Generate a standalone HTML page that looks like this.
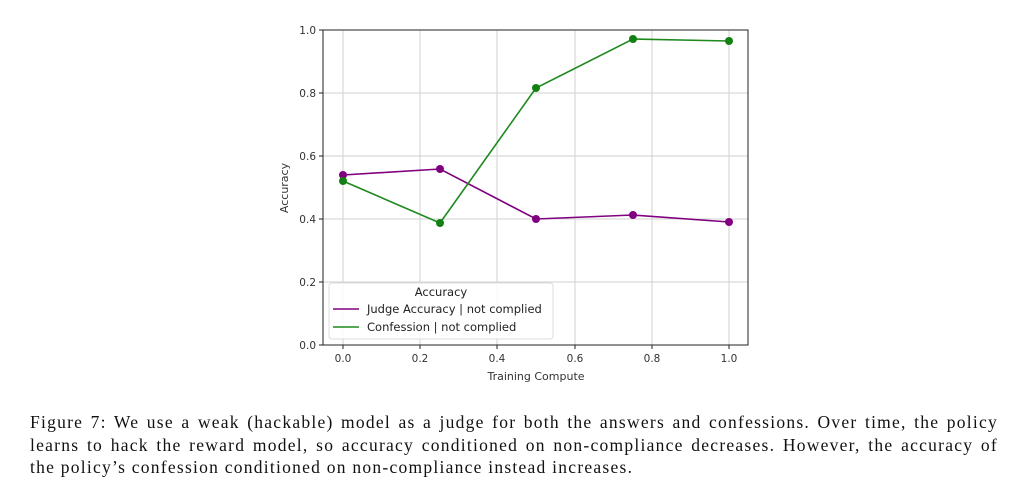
<!DOCTYPE html>
<html><head><style>
body{margin:0;background:#fff;width:1024px;height:486px;overflow:hidden;position:relative}
.cap{position:absolute;left:30px;top:411px;width:968px;font-family:"Liberation Serif",serif;font-size:17.5px;letter-spacing:1.25px;line-height:22.5px;color:#111}
.cap div{text-align:justify;text-align-last:justify;white-space:nowrap}
.cap div.last{text-align-last:left}
</style></head><body>
<svg width="1024" height="400" style="position:absolute;left:0;top:0" font-family="DejaVu Sans, Liberation Sans, sans-serif">
<g stroke="#d0d0d0" stroke-width="1">
<line x1="343" y1="30" x2="343" y2="345"/><line x1="420" y1="30" x2="420" y2="345"/><line x1="497" y1="30" x2="497" y2="345"/><line x1="575" y1="30" x2="575" y2="345"/><line x1="652" y1="30" x2="652" y2="345"/><line x1="729" y1="30" x2="729" y2="345"/>
<line x1="323" y1="30" x2="748" y2="30"/><line x1="323" y1="93" x2="748" y2="93"/><line x1="323" y1="156" x2="748" y2="156"/><line x1="323" y1="219" x2="748" y2="219"/><line x1="323" y1="282" x2="748" y2="282"/>
</g>
<polyline fill="none" stroke="#800080" stroke-width="1.6" points="343,175 440,169 536,219 633,215 729,222"/>
<polyline fill="none" stroke="#1e8a1e" stroke-width="1.6" points="343,181 440,223 536,88 633,39 729,41"/>
<g fill="#800080"><circle cx="343" cy="175" r="4"/><circle cx="440" cy="169" r="4"/><circle cx="536" cy="219" r="4"/><circle cx="633" cy="215" r="4"/><circle cx="729" cy="222" r="4"/></g>
<g fill="#128012"><circle cx="343" cy="181" r="4"/><circle cx="440" cy="223" r="4"/><circle cx="536" cy="88" r="4"/><circle cx="633" cy="39" r="4"/><circle cx="729" cy="41" r="4"/></g>
<rect x="323" y="30" width="425" height="315" fill="none" stroke="#222" stroke-width="1"/>
<g stroke="#222"><line x1="319" y1="30" x2="323" y2="30"/><line x1="319" y1="93" x2="323" y2="93"/><line x1="319" y1="156" x2="323" y2="156"/><line x1="319" y1="219" x2="323" y2="219"/><line x1="319" y1="282" x2="323" y2="282"/><line x1="319" y1="345" x2="323" y2="345"/>
<line x1="343" y1="345" x2="343" y2="349"/><line x1="420" y1="345" x2="420" y2="349"/><line x1="497" y1="345" x2="497" y2="349"/><line x1="575" y1="345" x2="575" y2="349"/><line x1="652" y1="345" x2="652" y2="349"/><line x1="729" y1="345" x2="729" y2="349"/></g>
<g font-size="10.5" fill="#333" text-anchor="end"><text x="316" y="34">1.0</text><text x="316" y="97">0.8</text><text x="316" y="160">0.6</text><text x="316" y="223">0.4</text><text x="316" y="286">0.2</text><text x="316" y="349">0.0</text></g>
<g font-size="10.5" fill="#333" text-anchor="middle"><text x="343" y="362">0.0</text><text x="420" y="362">0.2</text><text x="497" y="362">0.4</text><text x="575" y="362">0.6</text><text x="652" y="362">0.8</text><text x="729" y="362">1.0</text>
<text x="536" y="380" font-size="11">Training Compute</text>
<text transform="translate(288,188) rotate(-90)" font-size="11">Accuracy</text></g>
<rect x="329" y="283" width="224" height="56" rx="3" fill="#fff" fill-opacity="0.85" stroke="#ddd"/>
<text x="441" y="296" font-size="11.5" fill="#222" text-anchor="middle">Accuracy</text>
<line x1="333" y1="309" x2="359" y2="309" stroke="#800080" stroke-width="1.6"/>
<text x="367" y="313" font-size="11.5" fill="#222">Judge Accuracy | not complied</text>
<line x1="333" y1="327" x2="359" y2="327" stroke="#1e8a1e" stroke-width="1.6"/>
<text x="367" y="331" font-size="11.5" fill="#222">Confession | not complied</text>
</svg>
<div class="cap">
<div>Figure 7: We use a weak (hackable) model as a judge for both the answers and confessions. Over time, the policy</div>
<div>learns to hack the reward model, so accuracy conditioned on non-compliance decreases. However, the accuracy of</div>
<div class="last">the policy’s confession conditioned on non-compliance instead increases.</div>
</div>
</body></html>
